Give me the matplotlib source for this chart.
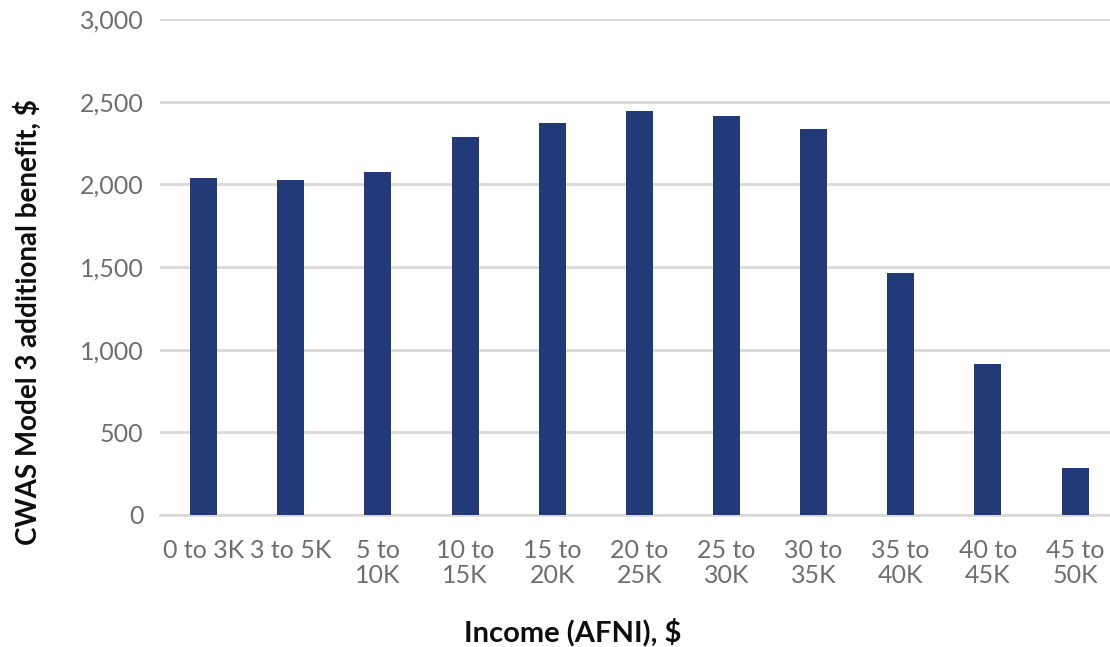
import matplotlib.pyplot as plt
import numpy as np

# income bands and benefit values
bands = ["0 to 3K", "3 to 5K", "5 to\n10K", "10 to\n15K", "15 to\n20K", "20 to\n25K",
         "25 to\n30K", "30 to\n35K", "35 to\n40K", "40 to\n45K", "45 to\n50K"]
benefit = [2040, 2027, 2073, 2287, 2371, 2444, 2414, 2333, 1462, 913, 286]
yticks = [0, 500, 1000, 1500, 2000, 2500, 3000]

plt.rcParams['font.family'] = ['Lato', 'DejaVu Sans']

fig = plt.figure(figsize=(11.1, 6.47), dpi=100)
ax = fig.add_axes([160 / 1110, 1 - 515 / 647, (1118.6 - 160) / 1110, (515 - 19) / 647])

x = np.arange(len(bands))
ax.bar(x, benefit, width=0.31, color="#223A77", zorder=3)

ax.set_xlim(-0.5, len(bands) - 0.5)
ax.set_ylim(0, 3000)
ax.set_yticks(yticks)
ax.set_yticklabels([f"{v:,}" for v in yticks])
ax.set_xticks(x)
ax.set_xticklabels(bands, linespacing=1.15)

ax.grid(axis="y", color="#D9D9D9", linewidth=2, zorder=0)
for s in ["top", "right", "left"]:
    ax.spines[s].set_visible(False)
ax.spines["bottom"].set_color("#D9D9D9")
ax.spines["bottom"].set_linewidth(2)
ax.tick_params(axis="both", length=0, labelsize=18, colors="#6E6E6E")
ax.tick_params(axis="x", pad=17)
ax.tick_params(axis="y", pad=12)

fig.text(28 / 1110, 1 - 322 / 647, "CWAS Model 3 additional benefit, $", rotation=90,
         ha="center", va="center", fontsize=20, fontweight="bold", color="#0D0D0D")
fig.text(573 / 1110, 1 - 632 / 647, "Income (AFNI), $", ha="center", va="center",
         fontsize=21, fontweight="bold", color="#0D0D0D")

fig.savefig("out.png", dpi=100)
